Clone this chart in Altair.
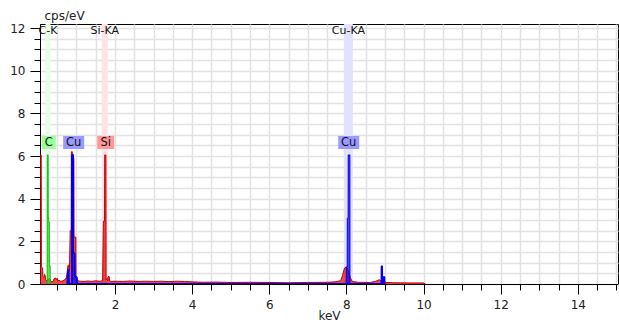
import altair as alt
import pandas as pd

# ---- data ----
red_kev = [0.06, 0.088, 0.092, 0.125, 0.13, 0.16, 0.17, 0.19, 0.20, 0.24, 0.25, 0.30, 0.32, 0.35,
           0.40, 0.42, 0.46, 0.48, 0.50, 0.52, 0.55, 0.60, 0.65, 0.70, 0.74, 0.76, 0.78, 0.80,
           0.82, 0.84, 0.865, 0.87, 0.895, 0.90, 0.935, 0.94, 0.985, 0.99, 1.02, 1.05, 1.10,
           1.2, 1.3, 1.4, 1.5, 1.6, 1.68, 1.70, 1.73, 1.735, 1.765, 1.77, 1.79, 1.81, 1.82,
           1.85, 1.86, 1.9, 2.0, 2.2, 2.4, 2.6, 2.8, 3.0, 3.2, 3.4, 3.6, 3.8, 4.0, 4.3, 4.6,
           5.0, 5.5, 6.0, 6.5, 7.0, 7.5, 7.7, 7.85, 7.9, 7.95, 8.0, 8.05, 8.1, 8.15, 8.3, 8.6,
           8.75, 8.85, 8.9, 8.95, 9.2, 9.6, 10.0, 10.05]
red_cps = [6.05, 6.05, 0.8, 0.75, 0.35, 0.3, 0.45, 0.4, 0.2, 0.15, 0.2, 0.25, 0.2, 0.1,
           0.12, 0.25, 0.28, 0.2, 0.27, 0.15, 0.18, 0.12, 0.15, 0.2, 0.3, 0.5, 0.85, 0.9,
           0.6, 2.5, 2.5, 6.2, 6.2, 5.9, 5.9, 2.2, 2.2, 0.3, 0.2, 0.15, 0.13,
           0.12, 0.14, 0.12, 0.15, 0.13, 0.15, 2.95, 2.95, 6.05, 6.05, 0.2, 0.25, 0.15, 0.35,
           0.35, 0.15, 0.12, 0.13, 0.12, 0.14, 0.12, 0.13, 0.12, 0.13, 0.11, 0.13, 0.12, 0.1, 0.08, 0.09,
           0.07, 0.08, 0.07, 0.06, 0.07, 0.08, 0.1, 0.15, 0.4, 0.75, 0.8, 0.6, 0.3, 0.12, 0.08, 0.07,
           0.12, 0.2, 0.15, 0.08, 0.06, 0.05, 0.05, 0.0]

c_kev = [0.244, 0.245, 0.268, 0.27, 0.282, 0.283, 0.298, 0.30, 0.32, 0.322]
c_cps = [0.0, 6.05, 6.05, 3.1, 3.1, 2.9, 2.9, 0.85, 0.85, 0.0]

cu_peaks = {
    "CuL_a": ([0.765, 0.77, 0.80, 0.805], [0.0, 0.65, 0.65, 0.0]),
    "CuL_b": ([0.883, 0.885, 0.92, 0.922, 0.955, 0.957, 1.01, 1.012],
              [0.0, 6.05, 6.05, 1.44, 1.44, 0.33, 0.33, 0.0]),
    "CuKa": ([7.995, 8.0, 8.02, 8.022, 8.045, 8.047, 8.09, 8.092],
             [0.0, 0.8, 0.8, 3.08, 3.08, 6.05, 6.05, 0.0]),
    "CuKb1": ([8.903, 8.905, 8.935, 8.937], [0.0, 0.84, 0.84, 0.0]),
    "CuKb2": ([8.955, 8.957, 8.99, 8.992], [0.0, 0.33, 0.33, 0.0]),
}

band_names = ["C-K", "Si-KA", "Cu-KA"]
band_kev = [0.265, 1.735, 8.05]
band_px = [5, 6, 9]
band_colors = ["#e6ffe6", "#ffe2e4", "#e2e2ff"]

box_labels = ["C", "Cu", "Si", "Cu"]
box_kev = [0.285, 0.93, 1.76, 8.06]
box_halfpx = [7, 10.5, 8.5, 10.5]
box_colors = ["#99ff99", "#9999ff", "#ff9999", "#9999ff"]

# ---- chart ----
W, H = 578, 260
xscale = alt.Scale(domain=[0.057, 15.04], nice=False, zero=False)
yscale = alt.Scale(domain=[0, 12.19], nice=False)

major_test = "abs(datum.value - 2*round(datum.value/2)) < 0.001"
xaxis = alt.Axis(
    values=[i * 0.5 for i in range(1, 31)],
    format="~g",
    labelExpr=f"{major_test} ? datum.label : ''",
    labelOverlap=False, labelFlush=False,
    tickSize={"condition": {"test": major_test, "value": 10}, "value": 6},
    tickColor="black", domainColor="black", tickWidth=1,
    grid=True, gridColor="#e2e2e2", gridWidth=1.5,
    labelFont="DejaVu Sans", labelFontSize=12, labelColor="#222",
    labelPadding=5,
    title="keV", titleFont="DejaVu Sans", titleFontSize=12, titleFontWeight="normal",
    titleColor="#222", titlePadding=0,
)
yaxis = alt.Axis(
    values=[i * 0.5 for i in range(0, 25)],
    format="~g",
    labelExpr=f"{major_test} ? datum.label : ''",
    labelOverlap=False, labelFlush=False,
    tickSize={"condition": {"test": major_test, "value": 10}, "value": 6},
    tickColor="black", domainColor="black", tickWidth=1,
    grid=True, gridColor="#e2e2e2", gridWidth=1.5,
    labelFont="DejaVu Sans", labelFontSize=12, labelColor="#222",
    labelPadding=5,
    title="cps/eV", titleFont="DejaVu Sans", titleFontSize=12, titleFontWeight="normal",
    titleColor="#222", titleAngle=0, titleAlign="left", titleBaseline="alphabetic",
    titleX=4, titleY=-5,
)

X = lambda: alt.X("kev:Q", scale=xscale, axis=xaxis)
Y = lambda: alt.Y("cps:Q", scale=yscale, axis=yaxis)

layers = []

# background bands
for name, e, w, c in zip(band_names, band_kev, band_px, band_colors):
    df = pd.DataFrame({"kev": [e], "cps": [0.0]})
    layers.append(
        alt.Chart(df).mark_rule(color=c, strokeWidth=w).encode(
            x=X(), y=alt.value(0), y2=alt.value(H)
        )
    )

# total spectrum
red_df = pd.DataFrame({"kev": red_kev, "cps": red_cps})
layers.append(
    alt.Chart(red_df).mark_area(
        color="#e00000", clip=True,
        line={"color": "#c00000", "strokeWidth": 1},
    ).encode(x=X(), y=Y())
)

# carbon
c_df = pd.DataFrame({"kev": c_kev, "cps": c_cps})
layers.append(
    alt.Chart(c_df).mark_area(
        color="#22dd22", clip=True, line={"color": "#11bb11", "strokeWidth": 1}
    ).encode(x=X(), y=Y())
)

# copper
rows = []
for pk, (ks, vs) in cu_peaks.items():
    for k, v in zip(ks, vs):
        rows.append({"peak": pk, "kev": k, "cps": v})
cu_df = pd.DataFrame(rows)
layers.append(
    alt.Chart(cu_df).mark_area(
        color="#0000ff", clip=True, line={"color": "#0000ee", "strokeWidth": 1}
    ).encode(x=X(), y=Y(), detail="peak:N")
)

# band labels at top
bl_df = pd.DataFrame({"kev": band_kev, "name": band_names})
layers.append(
    alt.Chart(bl_df).mark_text(
        font="DejaVu Sans", fontSize=11, color="#111", baseline="middle", align="center"
    ).encode(x=X(), y=alt.value(7), text="name:N")
)

# label boxes
for lab, e, hw, c in zip(box_labels, box_kev, box_halfpx, box_colors):
    df = pd.DataFrame({"kev": [e], "lab": [lab]})
    layers.append(
        alt.Chart(df).mark_rect(color=c, xOffset=-hw, x2Offset=hw).encode(
            x=X(), x2="kev:Q", y=alt.value(112), y2=alt.value(125)
        )
    )
    layers.append(
        alt.Chart(df).mark_text(
            font="DejaVu Sans", fontSize=11.5, color="#111", baseline="middle", align="center"
        ).encode(x=X(), y=alt.value(119), text="lab:N")
    )

chart = alt.layer(*layers).properties(
    width=W, height=H,
    autosize=alt.AutoSizeParams(type="none"),
    padding={"left": 40, "top": 24, "right": 1, "bottom": 40},
    background="white",
).configure_view(stroke="black", strokeWidth=1)

chart.save("out.html", embed_options={"renderer": "svg", "actions": False})
